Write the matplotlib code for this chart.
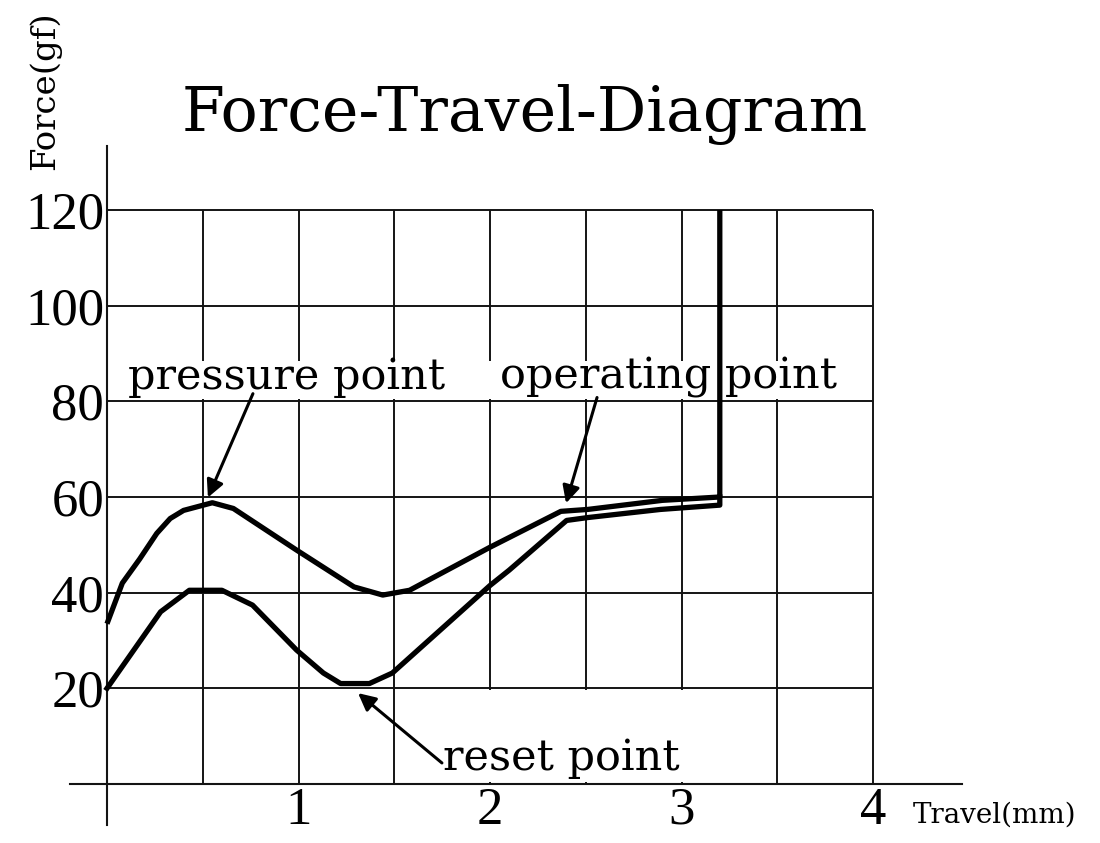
import matplotlib
matplotlib.use("Agg")
import matplotlib.pyplot as plt
from matplotlib.patches import Rectangle

# press stroke (upper curve) and release stroke (lower curve), travel in mm, force in gf
press_x = [0.0, 0.08, 0.17, 0.26, 0.33, 0.40, 0.55, 0.66, 0.99, 1.29, 1.44, 1.58, 2.00, 2.37, 2.51, 2.90, 3.20, 3.20]
press_y = [33.5, 42.0, 47.0, 52.4, 55.5, 57.2, 58.8, 57.6, 48.9, 41.2, 39.5, 40.5, 49.5, 57.0, 57.4, 59.3, 60.0, 120.0]

release_x = [0.0, 0.28, 0.43, 0.60, 0.76, 0.99, 1.13, 1.22, 1.37, 1.49, 2.00, 2.10, 2.40, 2.51, 2.89, 3.20, 3.20]
release_y = [20.0, 36.0, 40.5, 40.5, 37.4, 28.0, 23.2, 21.0, 21.0, 23.2, 41.5, 44.7, 55.1, 55.7, 57.4, 58.3, 60.0]

x_ticks = [1, 2, 3, 4]
x_grid = [0.5, 1, 1.5, 2, 2.5, 3, 3.5, 4]
y_ticks = [20, 40, 60, 80, 100, 120]

# (label, text position, arrow tail, arrow tip)
notes = [
    ("pressure point", (0.11, 82.6), (0.762, 81.6), (0.527, 59.9)),
    ("operating point", (2.052, 82.6), (2.559, 80.8), (2.397, 58.7)),
    ("reset point", (1.755, 2.9), (1.749, 4.4), (1.311, 19.0)),
]

txt_font = "DejaVu Serif"
num_font = "Liberation Serif"
ink = "#141414"

fig = plt.figure(figsize=(11, 8.43), dpi=100)
ax = fig.add_axes([107 / 1100, 1 - 784 / 843, (873 - 107) / 1100, (784 - 210) / 843])
ax.set_xlim(0, 4)
ax.set_ylim(0, 120)
for s in ax.spines.values():
    s.set_visible(False)

ax.set_xticks(x_ticks)
ax.set_yticks(y_ticks)
ax.set_xticklabels([str(t) for t in x_ticks], fontfamily=num_font, fontsize=38)
ax.set_yticklabels([str(t) for t in y_ticks], fontfamily=num_font, fontsize=38)
ax.tick_params(length=0)
ax.tick_params(axis="x", pad=2)
ax.tick_params(axis="y", pad=2)

# grid
ax.vlines(x_grid, 0, 120, color=ink, lw=1.4, clip_on=False, zorder=0.5)
ax.hlines(y_ticks, 0, 4, color=ink, lw=1.4, clip_on=False, zorder=0.5)

# blank bands where the labels sit over the grid
ax.add_patch(Rectangle((0.03, 80.5), 3.9, 8.0, color="white", zorder=1, lw=0))
ax.add_patch(Rectangle((1.55, 0.4), 1.8, 19.2, color="white", zorder=1, lw=0))

# axis lines
ax.plot([-0.193, 4.465], [0, 0], color=ink, lw=1.5, clip_on=False, zorder=2)
ax.plot([0, 0], [-8.6, 133.4], color=ink, lw=1.5, clip_on=False, zorder=2)

ax.plot(press_x, press_y, color="black", lw=3.8, solid_joinstyle="round",
        solid_capstyle="butt", clip_on=False, zorder=3)
ax.plot(release_x, release_y, color="black", lw=3.8, solid_joinstyle="round",
        clip_on=False, zorder=3)

for label, pos, tail, tip in notes:
    ax.text(pos[0], pos[1], label, fontfamily=txt_font, fontsize=31, va="baseline",
            ha="left", zorder=4)
    ax.annotate("", xy=tip, xytext=tail,
                arrowprops=dict(arrowstyle="-|>", color="black", lw=2.2,
                                mutation_scale=26, shrinkA=0, shrinkB=0),
                zorder=4)

ax.text(2.183, 136.5, "Force-Travel-Diagram", fontfamily=txt_font, fontsize=44.5,
        ha="center", va="baseline", clip_on=False)
ax.text(-0.324, 145, "Force(gf)", fontfamily=txt_font, fontsize=24.5, rotation=90,
        ha="center", va="center", clip_on=False)
ax.text(4.209, -6.5, "Travel(mm)", fontfamily=txt_font, fontsize=20,
        ha="left", va="center", clip_on=False)

fig.savefig("out.png", dpi=100)
